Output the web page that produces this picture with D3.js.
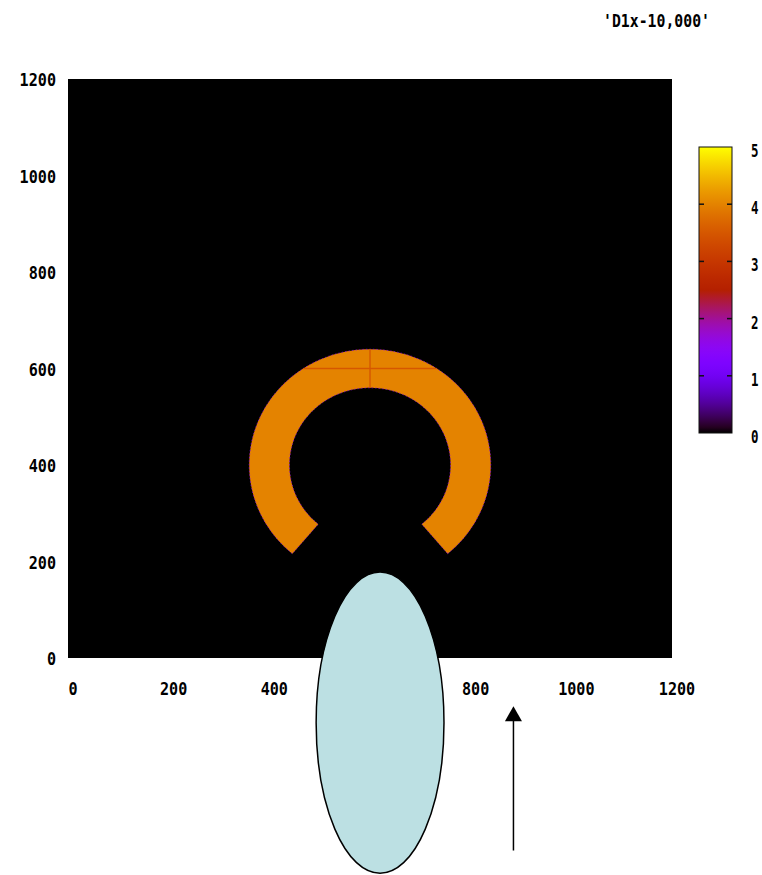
<!DOCTYPE html>
<html>
<head>
<meta charset="utf-8">
<script src="https://cdn.jsdelivr.net/npm/d3@7"></script>
<style>
  html, body { margin: 0; padding: 0; background: #fff; }
  svg { display: block; }
  text { font-family: "DejaVu Sans Mono", "Liberation Mono", monospace; font-weight: bold; font-size: 17.5px; fill: #000; }
</style>
</head>
<body>
<svg id="chart" width="762" height="875"></svg>
<script>
// Field of the 'D1x-10,000' frame: a C-shaped ring on zero background
const titleText = "'D1x-10,000'";
const xTicks = [0, 200, 400, 600, 800, 1000, 1200];
const xTickLabels = ["0", "200", "400", "", "800", "1000", "1200"];
const yTicks = [0, 200, 400, 600, 800, 1000, 1200];
const yTickLabels = ["0", "200", "400", "600", "800", "1000", "1200"];
const cbTicks = [0, 1, 2, 3, 4, 5];
const cbTickLabels = ["0", "1", "2", "3", "4", "5"];

// ring: centre, radii, gap around the downward direction (degrees), cell value
const ringCenter = [600, 400];
const ringRadii = [160, 240];
const ringGapHalfAngle = [40];
const ringValue = [4];
const ringEdgeValue = [1.6];
// seams inside the ring: [x1, y1, x2, y2, value]
const seams = [
  [0, 600, 1200, 600, 3.5],
  [600, 0, 600, 1200, 3.5]
];
// overlay shapes (data units)
const ellipseCenter = [620, -134];
const ellipseRadii = [127, 312];
const arrowFrom = [885, -399];
const arrowTo = [885, -100];

const svg = d3.select("#chart");
const x = d3.scaleLinear().domain([0, 1200]).range([68, 672]);
const y = d3.scaleLinear().domain([0, 1200]).range([658, 79]);
const cb = d3.scaleLinear().domain([0, 5]).range([433, 147]);

// gnuplot rgbformulae 7,5,15
function palette(t) {
  t = Math.max(0, Math.min(1, t));
  const r = Math.sqrt(t), g = t * t * t, b = Math.max(0, Math.sin(2 * Math.PI * t));
  return d3.rgb(r * 255, g * 255, b * 255).formatHex();
}
const color = v => palette(v / 5);

// plot background (value 0)
svg.append("rect")
  .attr("x", x(0)).attr("y", y(1200))
  .attr("width", x(1200) - x(0)).attr("height", y(0) - y(1200))
  .attr("fill", color(0));

// ring outline through the scales
function ringPoints() {
  const [cx, cy] = ringCenter, [r0, r1] = ringRadii;
  const a0 = -90 + ringGapHalfAngle[0], a1 = 270 - ringGapHalfAngle[0];
  const steps = 280, pts = [];
  for (let i = 0; i <= steps; i++) {
    const a = (a0 + (a1 - a0) * i / steps) * Math.PI / 180;
    pts.push([x(cx + r1 * Math.cos(a)), y(cy + r1 * Math.sin(a))]);
  }
  for (let i = steps; i >= 0; i--) {
    const a = (a0 + (a1 - a0) * i / steps) * Math.PI / 180;
    pts.push([x(cx + r0 * Math.cos(a)), y(cy + r0 * Math.sin(a))]);
  }
  return pts;
}
const ringPath = d3.line()(ringPoints()) + "Z";

svg.append("clipPath").attr("id", "ringClip")
  .append("path").attr("d", ringPath);

svg.append("path")
  .attr("d", ringPath)
  .attr("fill", color(ringValue[0]))
  .attr("stroke", color(ringEdgeValue[0]))
  .attr("stroke-width", 0.7)
  .attr("stroke-dasharray", "1.5,2");

svg.append("g").attr("clip-path", "url(#ringClip)")
  .selectAll("line").data(seams).join("line")
  .attr("x1", d => x(d[0])).attr("y1", d => y(d[1]))
  .attr("x2", d => x(d[2])).attr("y2", d => y(d[3]))
  .attr("stroke", d => color(d[4]))
  .attr("stroke-width", 1.4);

// axis labels
const charW = 9.1;
svg.append("g").selectAll("text").data(xTicks).join("text")
  .attr("x", d => x(d) + 5).attr("y", 689)
  .attr("text-anchor", "middle").attr("dominant-baseline", "central")
  .attr("textLength", (d, i) => xTickLabels[i].length * charW)
  .attr("lengthAdjust", "spacingAndGlyphs")
  .text((d, i) => xTickLabels[i]);

svg.append("g").selectAll("text").data(yTicks).join("text")
  .attr("x", 56).attr("y", d => y(d) + 1)
  .attr("text-anchor", "end").attr("dominant-baseline", "central")
  .attr("textLength", (d, i) => yTickLabels[i].length * charW)
  .attr("lengthAdjust", "spacingAndGlyphs")
  .text((d, i) => yTickLabels[i]);

// title
svg.append("text")
  .attr("x", 710).attr("y", 21)
  .attr("text-anchor", "end").attr("dominant-baseline", "central")
  .attr("textLength", 107).attr("lengthAdjust", "spacingAndGlyphs")
  .text(titleText);

// colour box
const defs = svg.append("defs");
const grad = defs.append("linearGradient").attr("id", "cbGrad")
  .attr("x1", 0).attr("y1", 1).attr("x2", 0).attr("y2", 0);
d3.range(0, 51).forEach(i => {
  grad.append("stop").attr("offset", i / 50).attr("stop-color", palette(i / 50));
});
const cbX0 = 699, cbX1 = 732;
svg.append("rect")
  .attr("x", cbX0).attr("y", cb(5))
  .attr("width", cbX1 - cbX0).attr("height", cb(0) - cb(5))
  .attr("fill", "url(#cbGrad)")
  .attr("stroke", "#111").attr("stroke-width", 1);
const cbT = svg.append("g").selectAll("g").data(cbTicks.slice(1, -1)).join("g");
cbT.append("line").attr("x1", cbX0).attr("x2", cbX0 + 5)
  .attr("y1", d => cb(d)).attr("y2", d => cb(d)).attr("stroke", "#111").attr("stroke-width", 1.5);
cbT.append("line").attr("x1", cbX1 - 5).attr("x2", cbX1)
  .attr("y1", d => cb(d)).attr("y2", d => cb(d)).attr("stroke", "#111").attr("stroke-width", 1.5);
svg.append("g").selectAll("text").data(cbTicks).join("text")
  .attr("x", 751).attr("y", d => cb(d) + 4)
  .attr("text-anchor", "start").attr("dominant-baseline", "central")
  .attr("textLength", 7.5).attr("lengthAdjust", "spacingAndGlyphs")
  .text((d, i) => cbTickLabels[i]);

// overlay ellipse
svg.append("ellipse")
  .attr("cx", x(ellipseCenter[0])).attr("cy", y(ellipseCenter[1]))
  .attr("rx", x(ellipseRadii[0]) - x(0)).attr("ry", y(0) - y(ellipseRadii[1]))
  .attr("fill", "#bce0e3").attr("stroke", "#000").attr("stroke-width", 1.5);

// arrow
const ax = x(arrowFrom[0]), ay0 = y(arrowFrom[1]), ay1 = y(arrowTo[1]);
svg.append("line")
  .attr("x1", ax).attr("y1", ay0).attr("x2", ax).attr("y2", ay1 + 12)
  .attr("stroke", "#000").attr("stroke-width", 1.5);
svg.append("path")
  .attr("d", `M${ax},${ay1} L${ax - 8.5},${ay1 + 15} L${ax + 8.5},${ay1 + 15} Z`)
  .attr("fill", "#000");
</script>
</body>
</html>
